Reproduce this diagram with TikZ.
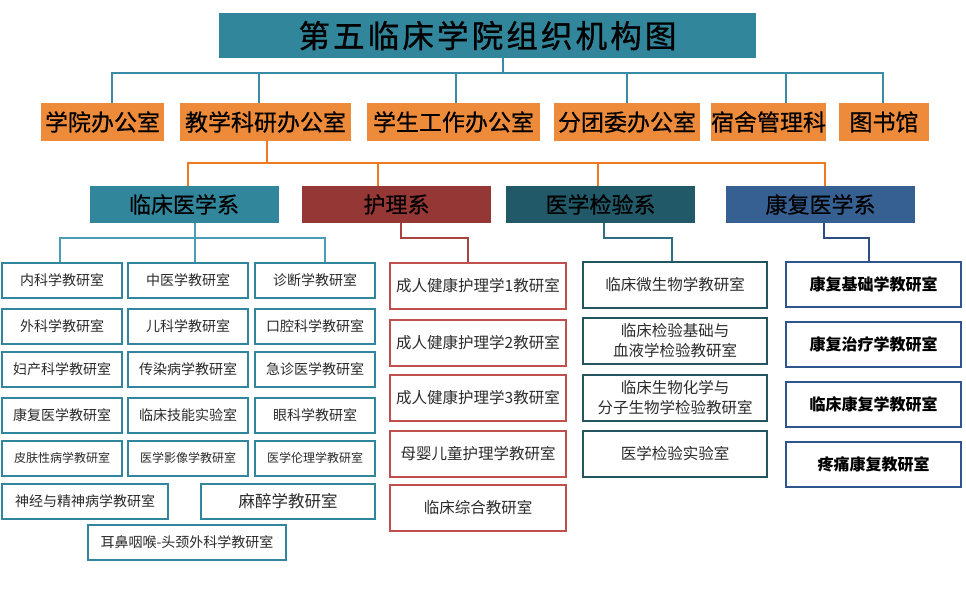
\documentclass[tikz,border=0pt]{standalone}
\usepackage{fontspec}
\newfontfamily\cjk{Noto Sans CJK SC}
\newfontfamily\cjkheavy{Noto Sans CJK SC}[FakeBold=0.6]
\newfontfamily\cjktitle{Noto Sans CJK SC}[LetterSpace=10, FakeBold=1]
\usetikzlibrary{positioning}
\definecolor{headteal}{HTML}{31869B}
\definecolor{officeorange}{HTML}{EE8B3B}
\definecolor{linkteal}{HTML}{3A8BA5}
\definecolor{linkorange}{HTML}{EE7A22}
\definecolor{nurred}{HTML}{953735}
\definecolor{labteal}{HTML}{215968}
\definecolor{rehblue}{HTML}{376092}
\definecolor{clinborder}{HTML}{31859C}
\definecolor{clinlink}{HTML}{4A9DB5}
\definecolor{nurborder}{HTML}{C0504D}
\definecolor{nurlink}{HTML}{A94442}
\definecolor{labborder}{HTML}{23545F}
\definecolor{lablink}{HTML}{2E6E80}
\definecolor{rehborder}{HTML}{2F5490}
\definecolor{rehlink}{HTML}{2D4E7E}
\definecolor{roomgray}{HTML}{2B2B2B}
\tikzset{headbox/.style={rectangle, fill=headteal, inner sep=0pt, minimum width=537pt, minimum height=45pt, text=black, font=\cjktitle\fontsize{31.5}{34}\selectfont}}
\tikzset{officebox/.style={rectangle, fill=officeorange, inner sep=0pt, minimum height=38pt, text=black, font=\cjkheavy\fontsize{23}{26}\selectfont}}
\tikzset{deptbox/.style={rectangle, inner sep=0pt, minimum width=189pt, minimum height=37pt, text=black, font=\cjkheavy\fontsize{22}{24}\selectfont}}
\tikzset{room/.style={rectangle, draw, fill=white, line width=2pt, inner sep=0pt, align=center, text=roomgray, font=\cjk\fontsize{14}{16}\selectfont}}
\tikzset{clinroom/.style={room, draw=clinborder, minimum width=120pt, minimum height=35pt}}
\tikzset{nurroom/.style={room, draw=nurborder, minimum width=176pt, minimum height=46pt, font=\cjk\fontsize{15.5}{18}\selectfont}}
\tikzset{labroom/.style={room, draw=labborder, minimum width=184pt, minimum height=46pt, font=\cjk\fontsize{15.5}{20}\selectfont}}
\tikzset{rehroom/.style={room, draw=rehborder, line width=2.4pt, minimum width=175pt, minimum height=45pt, text=black, font=\cjk\bfseries\fontsize{16}{18}\selectfont}}
\tikzset{link/.style={line width=2pt}}

\begin{document}
\begin{tikzpicture}[x=1pt, y=-1pt]
\useasboundingbox (0,0) rectangle (966,598);
% head and offices
\node[headbox] (head) at (487.5,35.5) {第五临床学院组织机构图};
\foreach \n/\x/\w/\t in {off1/102.5/123/学院办公室, off2/265.5/171/教学科研办公室, off3/453.5/173/学生工作办公室, off4/627/146/分团委办公室, off5/768.5/113/宿舍管理科, off6/884/90/图书馆} {
	\node[officebox, minimum width=\w pt] (\n) at (\x,122) {\t};
}
% departments
\node[deptbox, fill=headteal] (clin) at (184,204.5) {临床医学系};
\node[deptbox, fill=nurred] (nur) at (396.5,204.5) {护理系};
\node[deptbox, fill=labteal] (lab) at (600.5,204.5) {医学检验系};
\node[deptbox, fill=rehblue] (reh) at (820.5,204.5) {康复医学系};
% clinical rooms
\foreach \y/\s/\a/\b/\c [count=\r] in {280/14/内科学教研室/中医学教研室/诊断学教研室, 326/14/外科学教研室/儿科学教研室/口腔科学教研室, 369.5/14/妇产科学教研室/传染病学教研室/急诊医学教研室, 415.5/14/康复医学教研室/临床技能实验室/眼科学教研室, 458/12/皮肤性病学教研室/医学影像学教研室/医学伦理学教研室} {
	\node[clinroom, font=\cjk\fontsize{\s}{\s}\selectfont] (c\r1) at (62,\y) {\a};
	\node[clinroom, font=\cjk\fontsize{\s}{\s}\selectfont] (c\r2) at (188,\y) {\b};
	\node[clinroom, font=\cjk\fontsize{\s}{\s}\selectfont] (c\r3) at (315,\y) {\c};
}
\node[clinroom, minimum width=166pt] (c61) at (85,501) {神经与精神病学教研室};
\node[clinroom, minimum width=174pt, font=\cjk\fontsize{16.5}{18}\selectfont] (c62) at (288,501) {麻醉学教研室};
\node[clinroom, minimum width=198pt] (c71) at (187,542.5) {耳鼻咽喉-头颈外科学教研室};
% nursing rooms
\foreach \y/\t [count=\i] in {285.5/成人健康护理学1教研室, 342.5/成人健康护理学2教研室, 397.5/成人健康护理学3教研室, 454/母婴儿童护理学教研室, 507.5/临床综合教研室} {
	\node[nurroom] (n\i) at (478,\y) {\t};
}
% lab rooms
\foreach \y/\t [count=\i] in {285/临床微生物学教研室, 341/{临床检验基础与\\血液学检验教研室}, 398/{临床生物化学与\\分子生物学检验教研室}, 454/医学检验实验室} {
	\node[labroom] (l\i) at (675,\y) {\t};
}
% rehab rooms
\foreach \y/\t [count=\i] in {284.5/康复基础学教研室, 344.5/康复治疗学教研室, 404.5/临床康复学教研室, 464.5/疼痛康复教研室} {
	\node[rehroom] (r\i) at (873.5,\y) {\t};
}
% connectors
\coordinate (topbus) at (0,73);
\coordinate (midbus) at (0,163);
\coordinate (subbus) at (0,238);
\draw[link, draw=linkteal] ([xshift=15.5pt]head.south) -- ([xshift=15.5pt]head.south |- topbus);
\draw[link, draw=linkteal] ([xshift=9.5pt]off1.north) |- ([xshift=-1pt]off6.north |- topbus) -- ([xshift=-1pt]off6.north);
\foreach \n/\dx in {off2/-6.5, off3/2.5, off4/0, off5/17.5} {
	\draw[link, draw=linkteal] ([xshift=\dx pt]\n.north) -- ([xshift=\dx pt]\n.north |- topbus);
}
\draw[link, draw=linkorange] ([xshift=1.5pt]off2.south) -- ([xshift=1.5pt]off2.south |- midbus);
\draw[link, draw=linkorange] ([xshift=4pt]clin.north) |- ([xshift=4.5pt]reh.north |- midbus) -- ([xshift=4.5pt]reh.north);
\draw[link, draw=linkorange] ([xshift=-18.5pt]nur.north) -- ([xshift=-18.5pt]nur.north |- midbus);
\draw[link, draw=linkorange] ([xshift=-2.5pt]lab.north) -- ([xshift=-2.5pt]lab.north |- midbus);
\draw[link, draw=clinlink] ([xshift=-2pt]c11.north) |- ([xshift=10pt]c13.north |- subbus) -- ([xshift=10pt]c13.north);
\draw[link, draw=clinlink] ([xshift=11pt]clin.south) -- ([xshift=7pt]c12.north);
\draw[link, draw=nurlink] ([xshift=4.5pt]nur.south) |- ([xshift=-10pt]n1.north |- subbus) -- ([xshift=-10pt]n1.north);
\draw[link, draw=lablink] ([xshift=3.5pt]lab.south) |- ([xshift=-3pt]l1.north |- subbus) -- ([xshift=-3pt]l1.north);
\draw[link, draw=rehlink] ([xshift=3.5pt]reh.south) |- ([xshift=-4.5pt]r1.north |- subbus) -- ([xshift=-4.5pt]r1.north);
\end{tikzpicture}
\end{document}
